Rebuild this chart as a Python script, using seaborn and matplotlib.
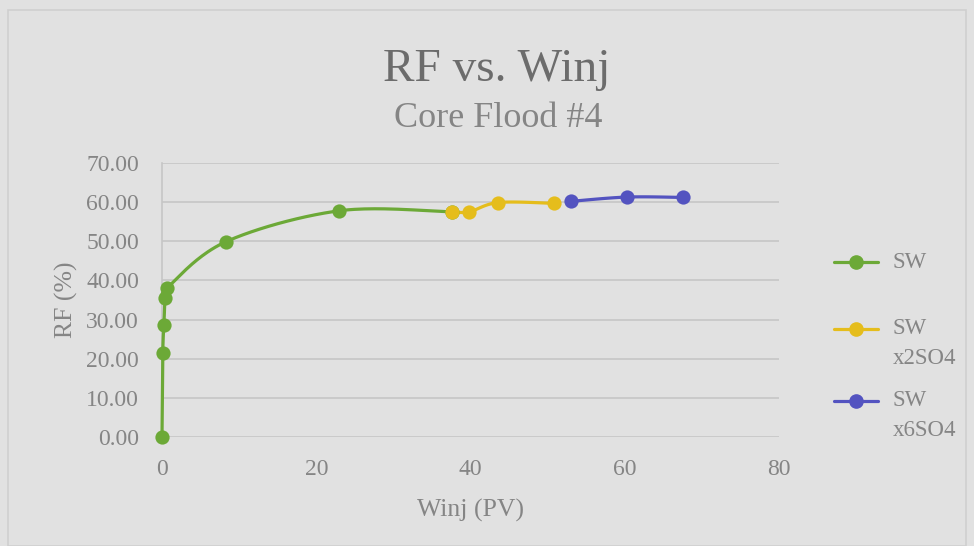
import numpy as np
import pandas as pd
import matplotlib
matplotlib.use("Agg")
import matplotlib.pyplot as plt
from matplotlib.lines import Line2D
from matplotlib.patches import Rectangle
import seaborn as sns

# Recovery factor vs. injected water, core flood #4
sw_winj = [0.0, 0.1, 0.25, 0.4, 0.7, 8.3, 23.0, 37.6]
sw_rf = [0.0, 21.5, 28.6, 35.5, 38.1, 49.9, 57.8, 57.5]

x2so4_winj = [37.6, 39.8, 43.6, 50.8]
x2so4_rf = [57.6, 57.5, 59.9, 59.7]

x6so4_winj = [53.0, 60.3, 67.6]
x6so4_rf = [60.2, 61.3, 61.2]

series_labels = ["SW", "SW\nx2SO4", "SW\nx6SO4"]
series_colors = ["#6ca937", "#e5bd1c", "#5353c0"]

x_ticks = [0, 20, 40, 60, 80]
y_ticks = [0, 10, 20, 30, 40, 50, 60, 70]

title = "RF vs. Winj"
subtitle = "Core Flood #4"
x_label = "Winj (PV)"
y_label = "RF (%)"


def smooth_path(xs, ys, steps=40):
    """Spreadsheet-style smoothed line: cubic Bezier segments with
    Catmull-Rom control points through every data point."""
    p = np.column_stack([xs, ys]).astype(float)
    n = len(p)
    if n < 3:
        return p[:, 0], p[:, 1]
    out = []
    t = np.linspace(0, 1, steps)[:, None]
    for i in range(n - 1):
        p0 = p[i - 1] if i > 0 else p[i]
        p1, p2 = p[i], p[i + 1]
        p3 = p[i + 2] if i + 2 < n else p[i + 1]
        c1 = p1 + (p2 - p0) / 6.0
        c2 = p2 - (p3 - p1) / 6.0
        seg = ((1 - t) ** 3) * p1 + 3 * ((1 - t) ** 2) * t * c1 \
            + 3 * (1 - t) * t ** 2 * c2 + t ** 3 * p2
        out.append(seg if i == 0 else seg[1:])
    out = np.vstack(out)
    return out[:, 0], out[:, 1]


sns.set_theme(style="white")
plt.rcParams["font.family"] = ["Liberation Serif", "DejaVu Serif"]

bg = "#e1e1e1"
text_grey = "#858585"
title_grey = "#6c6c6c"
grid_grey = "#c6c6c6"

fig = plt.figure(figsize=(9.74, 5.46), dpi=100, facecolor=bg)
ax = fig.add_axes([162 / 974, 1 - 437 / 546, (779 - 162) / 974, (437 - 163) / 546])
ax.set_facecolor(bg)

all_series = [
    (sw_winj, sw_rf),
    (x2so4_winj, x2so4_rf),
    (x6so4_winj, x6so4_rf),
]

for (xs, ys), color in zip(all_series, series_colors):
    sx, sy = smooth_path(xs, ys)
    curve = pd.DataFrame({"winj": sx, "rf": sy})
    sns.lineplot(data=curve, x="winj", y="rf", sort=False, estimator=None,
                 color=color, linewidth=2.3, ax=ax, zorder=3, clip_on=False)
    pts = pd.DataFrame({"winj": xs, "rf": ys})
    sns.scatterplot(data=pts, x="winj", y="rf", color=color, s=105,
                    edgecolor=color, linewidth=0, ax=ax, zorder=4,
                    clip_on=False)

ax.set_xlim(0, 80)
ax.set_ylim(0, 70)
ax.set_xticks(x_ticks)
ax.set_yticks(y_ticks)
ax.set_xticklabels([str(v) for v in x_ticks])
ax.set_yticklabels([f"{v:.2f}" for v in y_ticks])
ax.tick_params(axis="both", length=0, labelsize=17, labelcolor=text_grey)
ax.tick_params(axis="y", pad=16.5)
ax.tick_params(axis="x", pad=15.5)

ax.grid(axis="y", color=grid_grey, linewidth=1.2)
ax.grid(axis="x", visible=False)
for side in ["top", "right", "bottom"]:
    ax.spines[side].set_visible(False)
ax.spines["left"].set_color(grid_grey)
ax.spines["left"].set_linewidth(1.2)
ax.spines["left"].set_zorder(1)

ax.set_xlabel(x_label, fontsize=18.5, color=text_grey, labelpad=14)
ax.set_ylabel(y_label, fontsize=18.5, color=text_grey, labelpad=6)

fig.text(497 / 974, 1 - 81 / 546, title, fontsize=34, color=title_grey,
         ha="center", va="baseline")
fig.text(498 / 974, 1 - 127 / 546, subtitle, fontsize=26, color=text_grey,
         ha="center", va="baseline")

# Legend on the right, marker level with the first line of each label
legend_rows = [262, 329, 401]
line_gap = 29
for label, color, yrow in zip(series_labels, series_colors, legend_rows):
    yf = 1 - yrow / 546
    fig.add_artist(Line2D([834 / 974, 878 / 974], [yf, yf], color=color,
                          linewidth=2.3, transform=fig.transFigure))
    fig.add_artist(Line2D([856 / 974], [yf], color=color, marker="o",
                          markersize=9.5, linewidth=0,
                          transform=fig.transFigure))
    for k, part in enumerate(label.split("\n")):
        fig.text(893 / 974, 1 - (yrow + k * line_gap) / 546, part,
                 fontsize=16.5, color=text_grey, ha="left", va="center")

# Chart area frame
fig.add_artist(Rectangle((8 / 974, 0.0), 958 / 974, 1 - 10 / 546,
                         fill=False, edgecolor="#cfcfcf", linewidth=1.2,
                         transform=fig.transFigure))

fig.savefig("out.png", dpi=100, facecolor=bg)
